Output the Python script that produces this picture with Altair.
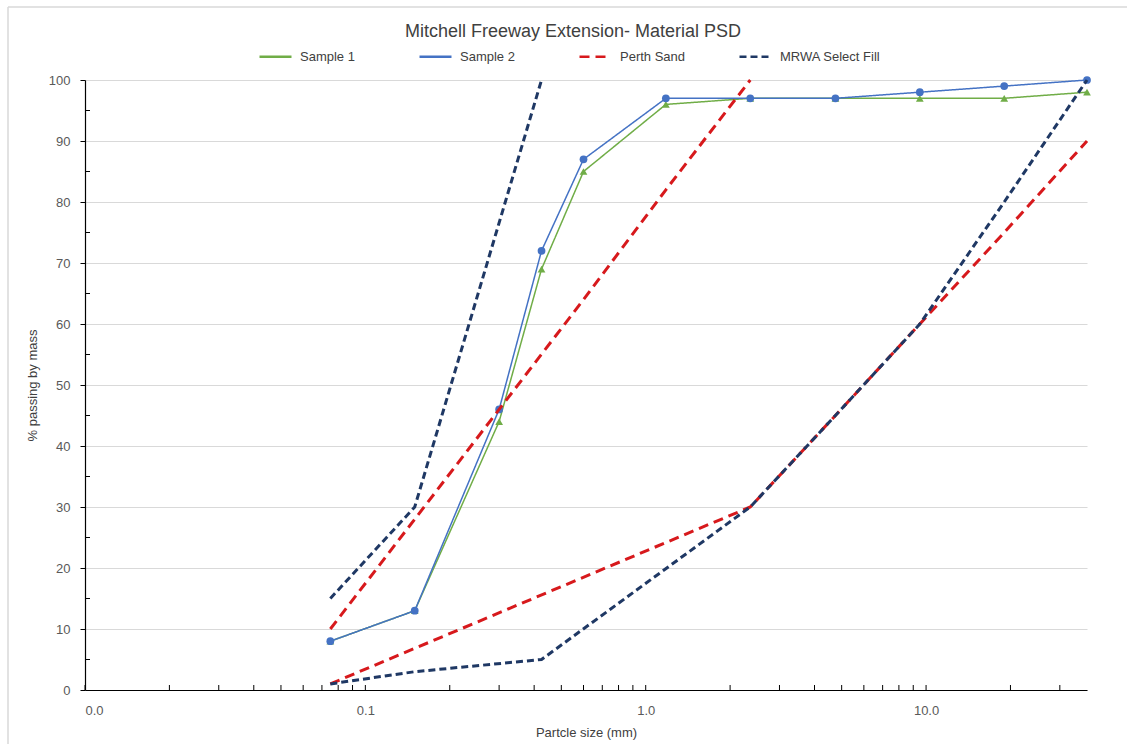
import altair as alt
import pandas as pd

# Sieve sizes (mm) and % passing for the two samples
sieve_mm = [0.075, 0.15, 0.3, 0.425, 0.6, 1.18, 2.36, 4.75, 9.5, 19.0, 37.5]
sample_1 = [8, 13, 44, 69, 85, 96, 97, 97, 97, 97, 98]
sample_2 = [8, 13, 46, 72, 87, 97, 97, 97, 98, 99, 100]

# Specification envelopes (upper and lower limits)
perth_upper_mm = [0.075, 0.15, 0.3, 0.6, 1.18, 2.36]
perth_upper = [10, 28, 46, 64, 82, 100]
perth_lower_mm = [0.075, 2.36, 4.75, 9.5, 19.0, 37.5]
perth_lower = [1, 30, 45, 60, 75, 90]

mrwa_upper_mm = [0.075, 0.15, 0.425]
mrwa_upper = [15, 30, 100]
mrwa_lower_mm = [0.075, 0.15, 0.425, 2.36, 4.75, 9.5, 19.0, 37.5]
mrwa_lower = [1, 3, 5, 30, 45, 60, 80, 100]

series_names = ["Sample 1", "Sample 2", "Perth Sand", "MRWA Select Fill"]
series_colors = ["#70AD47", "#4472C4", "#D7191C", "#1F3864"]
series_dashes = [[1, 0], [1, 0], [10, 6], [7, 4]]

# Axis tick positions
x_major = [0.01, 0.1, 1.0, 10.0]
x_minor = [0.02, 0.03, 0.04, 0.05, 0.06, 0.07, 0.08, 0.09,
           0.2, 0.3, 0.4, 0.5, 0.6, 0.7, 0.8, 0.9,
           2, 3, 4, 5, 6, 7, 8, 9, 20, 30]
y_minor = [5, 15, 25, 35, 45, 55, 65, 75, 85, 95]

W, H = 1002, 610
FONT = "Liberation Sans"

samples = pd.concat([
    pd.DataFrame({"size": sieve_mm, "passing": sample_1, "series": "Sample 1"}),
    pd.DataFrame({"size": sieve_mm, "passing": sample_2, "series": "Sample 2"}),
])
envelopes = pd.concat([
    pd.DataFrame({"size": perth_upper_mm, "passing": perth_upper, "series": "Perth Sand", "part": "upper"}),
    pd.DataFrame({"size": perth_lower_mm, "passing": perth_lower, "series": "Perth Sand", "part": "lower"}),
    pd.DataFrame({"size": mrwa_upper_mm, "passing": mrwa_upper, "series": "MRWA Select Fill", "part": "upper"}),
    pd.DataFrame({"size": mrwa_lower_mm, "passing": mrwa_lower, "series": "MRWA Select Fill", "part": "lower"}),
])

x_scale = alt.Scale(type="log", domain=[0.01, 37.5], nice=False)
y_scale = alt.Scale(domain=[0, 100], nice=False)

x_enc = alt.X("size:Q", scale=x_scale, title="Partcle size (mm)",
              axis=alt.Axis(values=x_major, format=".1f", ticks=False, grid=False,
                            labelPadding=14, titlePadding=9))
y_enc = alt.Y("passing:Q", scale=y_scale, title="% passing by mass",
              axis=alt.Axis(values=list(range(0, 101, 10)), tickSize=5, grid=True,
                            labelPadding=10, titlePadding=9))

legend = alt.Legend(title=None, orient="none", legendX=173, legendY=-41,
                    direction="horizontal", columns=4, gridAlign="all",
                    symbolType="stroke", symbolSize=1024,
                    symbolStrokeWidth=2.5, labelOffset=7,
                    columnPadding=13, labelFontSize=13,
                    labelFont=FONT, labelColor="#404040")

color_enc = alt.Color("series:N", scale=alt.Scale(domain=series_names, range=series_colors),
                      legend=legend)
dash_enc = alt.StrokeDash("series:N", scale=alt.Scale(domain=series_names, range=series_dashes),
                          legend=legend)

sample_lines = alt.Chart(samples).mark_line(strokeWidth=1.5).encode(
    x=x_enc, y=y_enc, color=color_enc, strokeDash=dash_enc
)
sample_points = alt.Chart(samples).mark_point(filled=True, size=60, opacity=1).encode(
    x="size:Q", y="passing:Q",
    color=alt.Color("series:N", scale=alt.Scale(domain=series_names, range=series_colors), legend=None),
    shape=alt.Shape("series:N", scale=alt.Scale(domain=["Sample 1", "Sample 2"],
                                                range=["triangle-up", "circle"]), legend=None),
)
envelope_lines = alt.Chart(envelopes).mark_line(strokeWidth=3).encode(
    x="size:Q", y="passing:Q", color=color_enc, strokeDash=dash_enc,
    detail="part:N", order="size:Q"
)

# Minor tick marks drawn inside the plot frame
x_minor_ticks = alt.Chart(pd.DataFrame({"size": x_minor + x_major})).mark_rule(
    color="#000000", strokeWidth=1
).encode(x="size:Q", y=alt.value(H - 5), y2=alt.value(H))
y_minor_ticks = alt.Chart(pd.DataFrame({"passing": y_minor})).mark_rule(
    color="#000000", strokeWidth=1
).encode(y="passing:Q", x=alt.value(0), x2=alt.value(5))

# Light frame around the chart area
frame_left = alt.Chart(pd.DataFrame({"k": [0]})).mark_rule(color="#d9d9d9", strokeWidth=1.5).encode(
    x=alt.value(-77), y=alt.value(-73), y2=alt.value(744 - 80)
)
frame_top = alt.Chart(pd.DataFrame({"k": [0]})).mark_rule(color="#d9d9d9", strokeWidth=1.5).encode(
    x=alt.value(-77), x2=alt.value(1127 - 85), y=alt.value(-73)
)

chart = alt.layer(
    frame_left, frame_top, x_minor_ticks, y_minor_ticks,
    sample_lines, sample_points, envelope_lines
).properties(
    width=W, height=H,
    background="white",
    autosize=alt.AutoSizeParams(type="none"),
    padding={"left": 85, "top": 80, "right": 40, "bottom": 54},
    title=alt.TitleParams("Mitchell Freeway Extension- Material PSD", fontSize=18, font=FONT,
                          fontWeight="normal", color="#404040", anchor="middle",
                          frame="group", dx=-13, offset=0, dy=35),
).configure_view(stroke=None).configure_axis(
    domainColor="#000000", domainWidth=1.2, tickColor="#000000",
    labelFont=FONT, labelFontSize=13, labelColor="#595959",
    titleFont=FONT, titleFontSize=13, titleFontWeight="normal", titleColor="#404040",
    gridColor="#d9d9d9", gridWidth=1
)

chart.save("out.html", embed_options={"renderer": "svg", "actions": False})
